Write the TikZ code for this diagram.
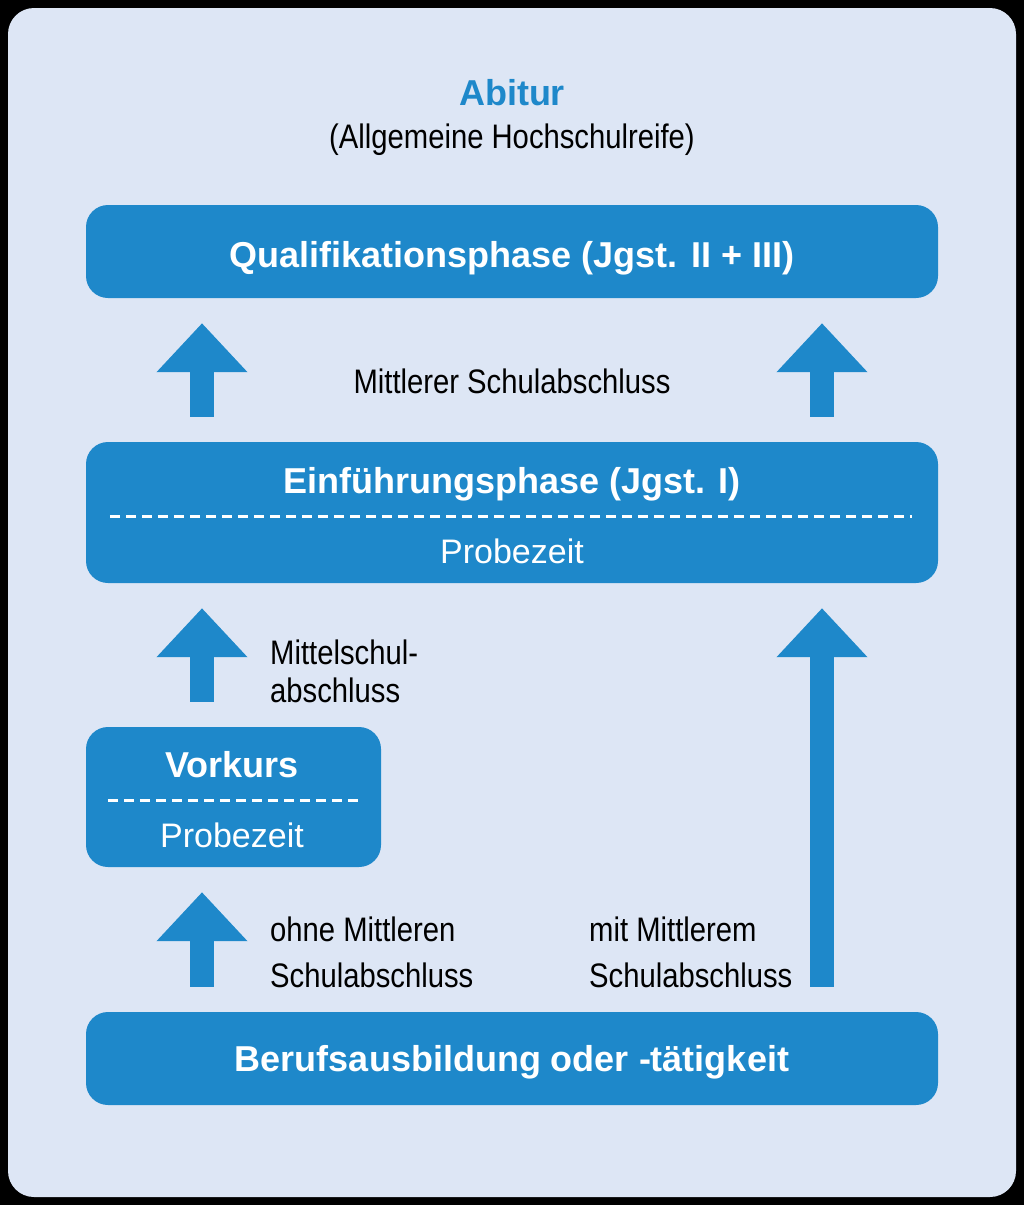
\documentclass[tikz,border=0pt]{standalone}
\usepackage{fontspec}
\usetikzlibrary{arrows.meta}
\setmainfont{Liberation Sans}
\newfontfamily\condfont{Liberation Sans}[FakeStretch=0.86]
\definecolor{boxblue}{RGB}{30,136,202}
\definecolor{paleblue}{RGB}{221,230,245}
\tikzset{
  stage/.style={fill=boxblue, rounded corners=22pt, inner sep=0pt},
  title/.style={text=white, font=\bfseries\fontsize{36}{42}\selectfont},
  trial/.style={text=white, font=\fontsize{34}{40}\selectfont},
  sepline/.style={white, line width=3pt, dash pattern=on 10pt off 6pt},
  upblock/.style={boxblue, line width=24pt, -{Triangle[width=88pt,length=49pt]},
    shorten >=25pt, shorten <=25pt},
  note/.style={font=\condfont\fontsize{34}{46}\selectfont, align=left, anchor=west, inner sep=0pt},
}
\begin{document}
\begin{tikzpicture}[x=1pt, y=-1pt]
  % page and panel
  \fill[black] (0,0) rectangle (1024,1205);
  \fill[paleblue, rounded corners=26pt] (8,8) rectangle (1016,1197);
  \useasboundingbox (0,0) rectangle (1024,1205);

  % heading
  \node[text=boxblue, font=\bfseries\fontsize{36}{42}\selectfont] (abi) at (512,93) {Abitur};
  \node[font=\condfont\fontsize{34}{40}\selectfont] (ahr) at (512,140) {(Allgemeine Hochschulreife)};

  % stages
  \node[stage, minimum width=852pt, minimum height=93pt] (qual) at (512,251.5) {};
  \node[title] at (512,258) {Qualifikationsphase (Jgst. II + III)};

  \node[stage, minimum width=852pt, minimum height=141pt] (einf) at (512,512.5) {};
  \node[title] at (512,484) {Einführungsphase (Jgst. I)};
  \draw[sepline] ([xshift=24pt,yshift=-3.5pt]einf.west) -- ([xshift=-26pt,yshift=-3.5pt]einf.east);
  \node[trial] at (512,551) {Probezeit};

  \node[stage, minimum width=295pt, minimum height=140pt] (vor) at (233.5,797) {};
  \node[title] at (232,765) {Vorkurs};
  \draw[sepline] ([xshift=22pt,yshift=-3pt]vor.west) -- ([xshift=-23pt,yshift=-3pt]vor.east);
  \node[trial] at (232,835) {Probezeit};

  \node[stage, minimum width=852pt, minimum height=93pt] (beruf) at (512,1058.5) {};
  \node[title] at (512,1062) {Berufsausbildung oder -tätigkeit};

  % arrow columns
  \coordinate (L) at (202,0);
  \coordinate (R) at (822,0);

  \draw[upblock] (einf.north -| L) -- (qual.south -| L);
  \draw[upblock] (einf.north -| R) -- (qual.south -| R);
  \draw[upblock] (vor.north -| L) -- (einf.south -| L);
  \draw[upblock] (beruf.north -| L) -- (vor.south -| L);
  \draw[upblock] (beruf.north -| R) -- (einf.south -| R);

  % labels
  \node[font=\condfont\fontsize{34}{40}\selectfont] (msa) at (512,381) {Mittlerer Schulabschluss};
  \node[note, font=\condfont\fontsize{34}{38}\selectfont] (msch) at (270,671) {Mittelschul-\\abschluss};
  \node[note] (ohne) at (270,952) {ohne Mittleren\\Schulabschluss};
  \node[note] (mit) at (589,952) {mit Mittlerem\\Schulabschluss};
\end{tikzpicture}
\end{document}
